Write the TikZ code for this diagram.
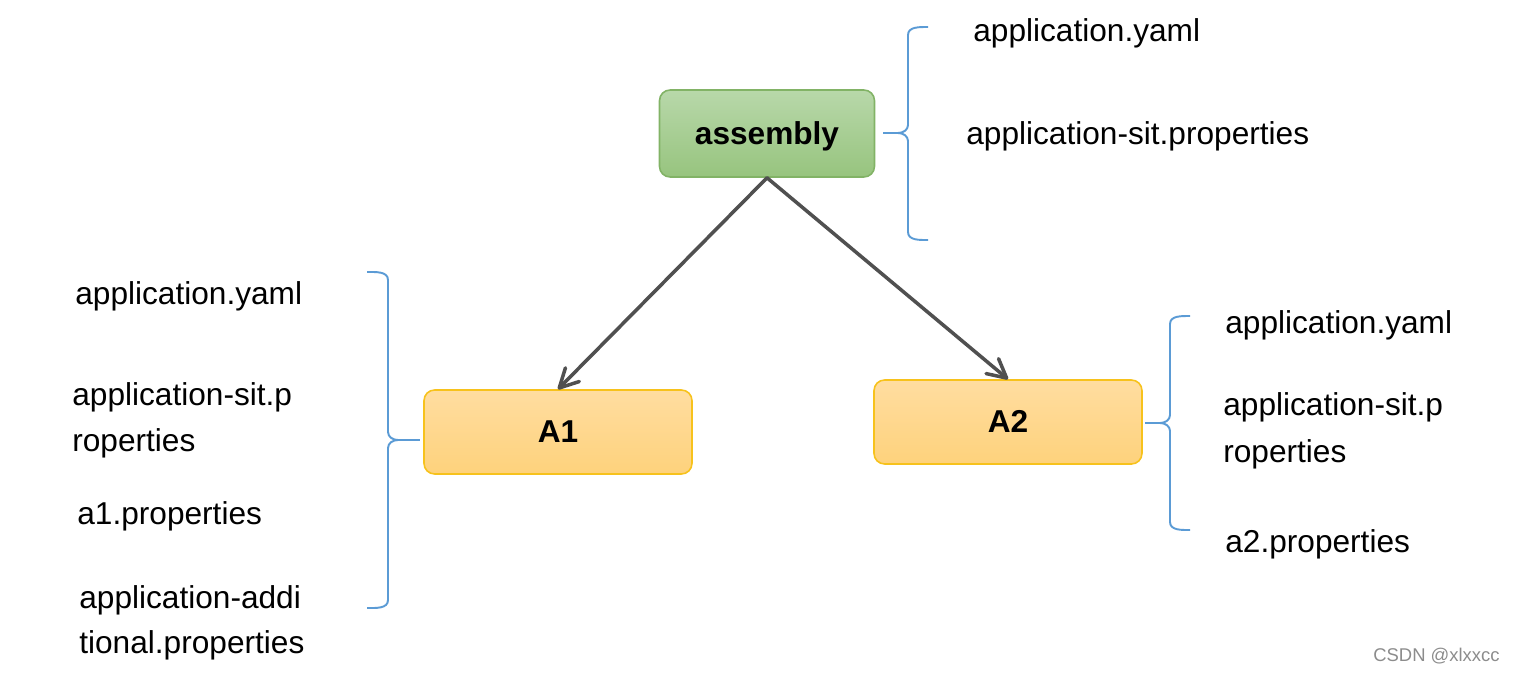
\documentclass[tikz,border=0pt]{standalone}
\usepackage{fontspec}
\setmainfont{Liberation Sans}
\usetikzlibrary{arrows.meta}

\definecolor{boxgreen}{HTML}{82B366}
\definecolor{greentop}{HTML}{B8D8AA}
\definecolor{greenbot}{HTML}{97C47E}
\definecolor{boxyellow}{HTML}{F7C21C}
\definecolor{yellowtop}{HTML}{FFDDA0}
\definecolor{yellowbot}{HTML}{FED27C}
\definecolor{bracecol}{HTML}{5B9BD5}
\definecolor{arrowcol}{HTML}{505050}

\tikzset{
  module/.style={draw, line width=0.9pt, rounded corners=6pt, inner sep=0pt,
    text depth=0.1ex, font=\fontsize{18}{22}\selectfont\bfseries},
  greenbox/.style={module, draw=boxgreen, top color=greentop,
    bottom color=greenbot, minimum width=4.3cm, minimum height=1.74cm},
  yellowbox/.style={module, draw=boxyellow, top color=yellowtop,
    bottom color=yellowbot, minimum width=5.36cm, minimum height=1.68cm},
  depends/.style={-{Straight Barb[angle=55:12pt,round]},
    draw=arrowcol, line width=2pt, line cap=round},
  bracepath/.style={draw=bracecol, line width=1.1pt},
  filelabel/.style={anchor=west, inner sep=0pt, font=\fontsize{18}{22}\selectfont}
}

\begin{document}
\begin{tikzpicture}[x=0.02cm, y=-0.02cm]
  \useasboundingbox (0,0) rectangle (1514,674);

  % modules
  \node[greenbox] (asm) at (767,133.5) {assembly};
  \node[yellowbox] (a1) at (558,432) {A1};
  \node[yellowbox] (a2) at (1008,422) {A2};

  \draw[depends] (asm.south) -- (a1.north);
  \draw[depends] (asm.south) -- (a2.north);

  % config files of assembly
  \node[filelabel] (asmyaml) at (973,33) {application.yaml};
  \node[filelabel] (asmsit) at (966,136) {application-sit.properties};
  \coordinate (asmcusp) at (898,133);
  \draw[bracepath] (928,27) to[out=180,in=90] (908,35) -- (908,125)
    to[out=-90,in=0] (asmcusp) to[out=0,in=90] (908,141) -- (908,232)
    to[out=-90,in=180] (928,240);
  \draw[bracepath] (asmcusp) -- (883,133);

  % config files of A1
  \node[filelabel] (a1yaml) at (75,296) {application.yaml};
  \node[filelabel] (a1sit) at (72,397) {application-sit.p};
  \node[filelabel] (a1sitb) at (72,443) {roperties};
  \node[filelabel] (a1prop) at (77,516) {a1.properties};
  \node[filelabel] (a1add) at (79,600) {application-addi};
  \node[filelabel] (a1addb) at (79,645) {tional.properties};
  \coordinate (a1cusp) at (398,440);
  \draw[bracepath] (367,272) to[out=0,in=90] (388,280) -- (388,432)
    to[out=-90,in=180] (a1cusp) to[out=180,in=90] (388,448) -- (388,600)
    to[out=-90,in=0] (367,608);
  \draw[bracepath] (a1cusp) -- (420,440);

  % config files of A2
  \node[filelabel] (a2yaml) at (1225,325) {application.yaml};
  \node[filelabel] (a2sit) at (1223,407) {application-sit.p};
  \node[filelabel] (a2sitb) at (1223,454) {roperties};
  \node[filelabel] (a2prop) at (1225,544) {a2.properties};
  \coordinate (a2cusp) at (1160,423);
  \draw[bracepath] (1190,316) to[out=180,in=90] (1170,324) -- (1170,415)
    to[out=-90,in=0] (a2cusp) to[out=0,in=90] (1170,431) -- (1170,522)
    to[out=-90,in=180] (1190,530);
  \draw[bracepath] (a2cusp) -- (1145,423);

  \node[anchor=east, inner sep=0pt, text=black!45, font=\fontsize{10.5}{12}\selectfont]
    (mark) at (1500,656) {CSDN @xlxxcc};
\end{tikzpicture}
\end{document}
